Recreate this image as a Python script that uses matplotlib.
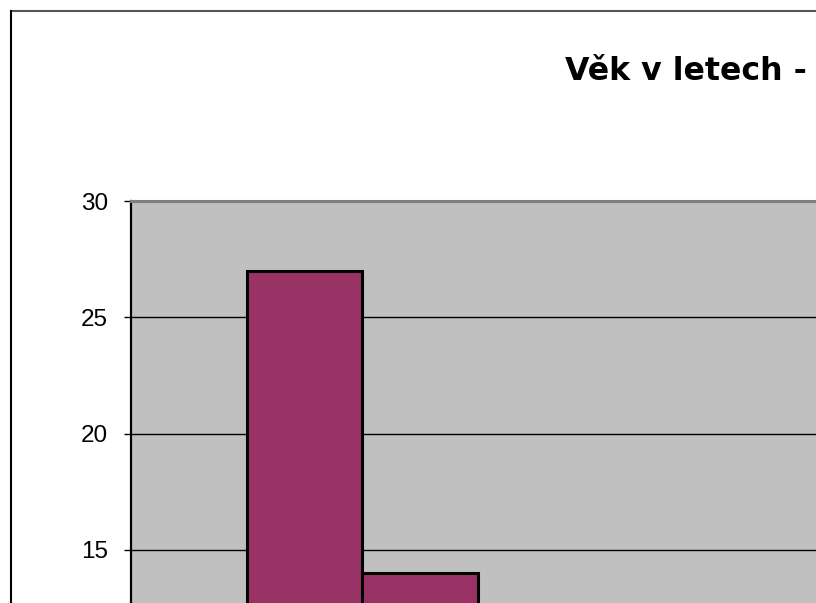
import matplotlib
matplotlib.use("Agg")
import matplotlib.pyplot as plt
from matplotlib.lines import Line2D

# Data (only the first bars are visible in the cropped reference)
categories = ["1", "2", "3", "4", "5", "6", "7", "8"]
values = [5, 27, 14, 8, 6, 4, 3, 2]
yticks = [15, 20, 25, 30]
title = "Věk v letech -"

W, H = 816, 603
fig = plt.figure(figsize=(W / 100, H / 100), dpi=100)
fig.patch.set_facecolor("white")

plt.rcParams["font.family"] = ["Liberation Sans", "DejaVu Sans"]

# axes geometry in pixels (top-left origin)
left_px, top_px = 131, 201
px_per_unit = (550 - 201) / 15.0
bottom_px = top_px + 30 * px_per_unit
cat_w = 115.5
right_px = left_px + cat_w * len(categories)

ax = fig.add_axes([left_px / W, 1 - bottom_px / H,
                   (right_px - left_px) / W, (bottom_px - top_px) / H])
ax.set_facecolor("#C0C0C0")
ax.set_xlim(-0.5, len(categories) - 0.5)
ax.set_ylim(0, 30)

ax.bar(range(len(categories)), values, width=1.0, color="#993366",
       edgecolor="black", linewidth=2.2, zorder=3)

ax.set_yticks(yticks)
ax.set_yticklabels([str(v) for v in yticks], fontsize=17.5)
ax.yaxis.grid(True, color="black", linewidth=1.0, zorder=1)
ax.set_axisbelow(True)
ax.tick_params(axis="y", length=5, width=1.0, color="black", pad=11.5)
ax.set_xticks(range(len(categories)))
ax.set_xticklabels(categories)
ax.tick_params(axis="x", bottom=False, labelbottom=False)

for s in ["right", "bottom"]:
    ax.spines[s].set_visible(False)
ax.spines["top"].set_color("#808080")
ax.spines["top"].set_linewidth(2.2)
ax.spines["left"].set_color("black")
ax.spines["left"].set_linewidth(1.6)

# title
fig.text(565 / W, 1 - 79.5 / H, title, fontsize=22.8, fontweight="bold",
         ha="left", va="baseline", family=["DejaVu Sans"])

# outer chart border
fig.add_artist(Line2D([10.5 / W, 1.0], [1 - 10.5 / H, 1 - 10.5 / H],
                      transform=fig.transFigure, color="#555555", linewidth=1.5))
fig.add_artist(Line2D([10.5 / W, 10.5 / W], [0, 1 - 10.5 / H],
                      transform=fig.transFigure, color="black", linewidth=1.5))

fig.savefig("out.png", dpi=100)
